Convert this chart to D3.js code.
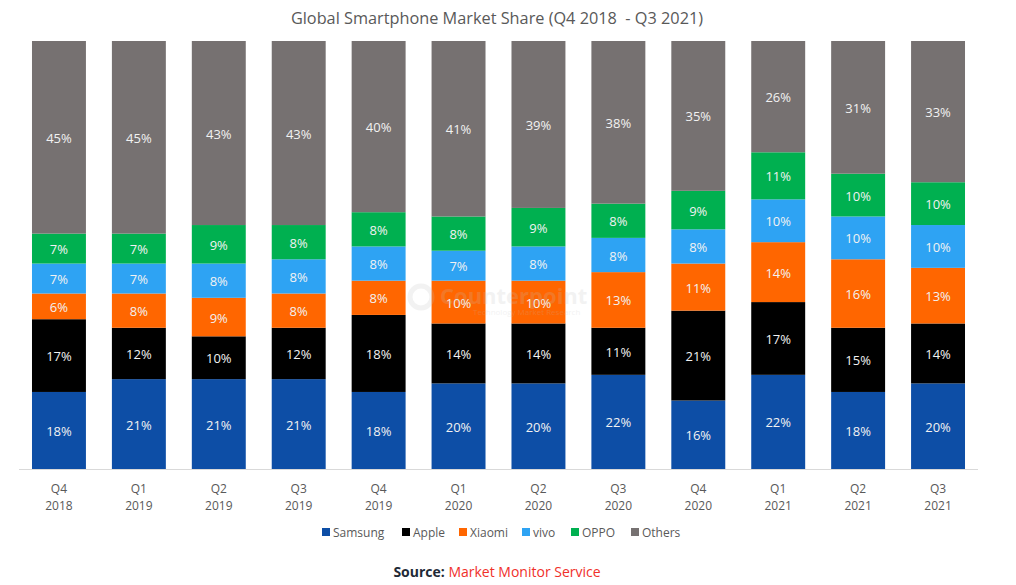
<!DOCTYPE html>
<html>
<head>
<meta charset="utf-8">
<script src="https://cdn.jsdelivr.net/npm/d3@7"></script>
<style>
  html, body { margin: 0; padding: 0; background: #fff; }
  svg { display: block; font-family: "Open Sans", "Noto Sans", sans-serif; }
</style>
</head>
<body>
<svg id="chart" width="1016" height="585"></svg>
<script>
const quarters = ["Q4 2018","Q1 2019","Q2 2019","Q3 2019","Q4 2019","Q1 2020","Q2 2020","Q3 2020","Q4 2020","Q1 2021","Q2 2021","Q3 2021"];
const brands = ["Samsung","Apple","Xiaomi","vivo","OPPO","Others"];
const samsung = [18,21,21,21,18,20,20,22,16,22,18,20];
const apple   = [17,12,10,12,18,14,14,11,21,17,15,14];
const xiaomi  = [6,8,9,8,8,10,10,13,11,14,16,13];
const vivo    = [7,7,8,8,8,7,8,8,8,10,10,10];
const oppo    = [7,7,9,8,8,8,9,8,9,11,10,10];
const others  = [45,45,43,43,40,41,39,38,35,26,31,33];
const colors  = ["#0d4ea6","#000000","#ff6600","#2ea3f3","#00b050","#767171"];

const seriesVals = [samsung, apple, xiaomi, vivo, oppo, others];
const rows = quarters.map((q, i) => {
  const r = { q };
  brands.forEach((b, j) => r[b] = seriesVals[j][i]);
  return r;
});

const svg = d3.select("#chart");
const plotTop = 41, plotBottom = 469;
const x = d3.scaleBand().domain(quarters).range([19, 978]).paddingInner(0.325).paddingOuter(0.1625);
const y = d3.scaleLinear().domain([0, 100]).range([plotBottom, plotTop]);
const color = d3.scaleOrdinal().domain(brands).range(colors);

const stack = d3.stack().keys(brands)(rows);

// baseline
svg.append("line").attr("x1", 19).attr("x2", 978).attr("y1", plotBottom + 0.5).attr("y2", plotBottom + 0.5)
  .attr("stroke", "#d9d9d9").attr("stroke-width", 1);

const g = svg.append("g");
stack.forEach(layer => {
  const lg = g.append("g").attr("fill", color(layer.key));
  lg.selectAll("rect").data(layer).join("rect")
    .attr("x", d => x(d.data.q))
    .attr("width", x.bandwidth())
    .attr("y", d => y(d[1]))
    .attr("height", d => y(d[0]) - y(d[1]));
});

// watermark
const wm = svg.append("g").attr("opacity", 0.2).attr("pointer-events", "none");
wm.append("circle").attr("cx", 421).attr("cy", 297).attr("r", 11).attr("fill", "none").attr("stroke", "#bfbfbf").attr("stroke-width", 5);
wm.append("text").attr("x", 440).attr("y", 304).attr("fill", "#bfbfbf").attr("font-size", 22).attr("font-weight", 700).text("Counterpoint");
wm.append("text").attr("x", 473).attr("y", 315).attr("fill", "#bfbfbf").attr("font-size", 8).text("Technology Market Research");

// value labels
stack.forEach(layer => {
  g.append("g").selectAll("text").data(layer).join("text")
    .attr("x", d => x(d.data.q) + x.bandwidth() / 2)
    .attr("y", d => (y(d[0]) + y(d[1])) / 2 + 1)
    .attr("dy", "0.35em")
    .attr("text-anchor", "middle")
    .attr("fill", "#f2f2f2")
    .attr("font-size", 13)
    .text(d => (d[1] - d[0]) + "%");
});

// x axis labels
const xl = svg.append("g");
quarters.forEach(q => {
  const [a, b] = q.split(" ");
  const t = xl.append("text").attr("x", x(q) + x.bandwidth() / 2).attr("text-anchor", "middle")
    .attr("fill", "#595959").attr("font-size", 12);
  t.append("tspan").attr("x", x(q) + x.bandwidth() / 2).attr("y", 493).text(a);
  t.append("tspan").attr("x", x(q) + x.bandwidth() / 2).attr("y", 510).text(b);
});

// title
svg.append("text").attr("x", 497).attr("y", 24).attr("text-anchor", "middle")
  .attr("fill", "#595959").attr("font-size", 16.3)
  .text("Global Smartphone Market Share (Q4 2018\u00a0\u00a0- Q3 2021)");

// legend
const legendX = [322, 402, 459, 522, 571, 631];
const lgd = svg.append("g");
brands.forEach((b, i) => {
  lgd.append("rect").attr("x", legendX[i]).attr("y", 528).attr("width", 8).attr("height", 8).attr("fill", colors[i]);
  lgd.append("text").attr("x", legendX[i] + 11).attr("y", 536.5).attr("fill", "#595959").attr("font-size", 12).text(b);
});

// source
const src = svg.append("text").attr("x", 497).attr("y", 577).attr("text-anchor", "middle").attr("font-size", 14);
src.append("tspan").attr("fill", "#1f2a36").attr("font-weight", 700).text("Source: ");
src.append("tspan").attr("fill", "#f0302a").text("Market Monitor Service");
</script>
</body>
</html>
